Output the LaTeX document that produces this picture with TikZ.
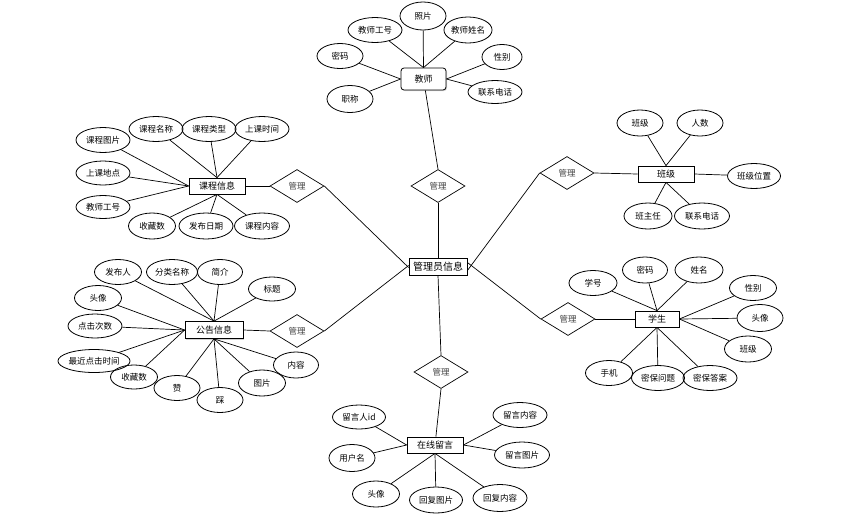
\documentclass[tikz,border=0pt]{standalone}
\usepackage{fontspec}
\setmainfont{Noto Sans CJK SC}
\usetikzlibrary{shapes.geometric,shadows}
\begin{document}
\begin{tikzpicture}[x=1pt,y=-1pt,
  every node/.style={font=\fontsize{8.5}{10}\selectfont, inner sep=0pt},
  attr/.style={ellipse, draw, line width=0.8pt, minimum width=#1, minimum height=25},
  attr/.default=47,
  ent/.style={rectangle, draw, line width=0.8pt, fill=white, minimum width=#1, minimum height=16,
    drop shadow={shadow xshift=1pt, shadow yshift=-1pt, opacity=0.35}, font=\fontsize{9}{10}\selectfont},
  ent/.default=56,
  rel/.style={diamond, draw, line width=0.7pt, minimum width=54, minimum height=33, text=black!75},
  conn/.style={line width=0.7pt}]
\useasboundingbox (0,0) rectangle (859,520);

% admin
\node[ent=58, minimum height=17, font=\fontsize{10}{11}\selectfont] (a) at (438,266.5) {管理员信息};

% relationships
\node[rel] (dT) at (438,186) {管理};
\node[rel] (dLT) at (297,186) {管理};
\node[rel] (dRT) at (567,173) {管理};
\node[rel] (dLB) at (297,331) {管理};
\node[rel] (dRB) at (568,319) {管理};
\node[rel] (dB) at (441,372) {管理};

% teacher
\node[ent=45, minimum height=22, rounded corners=3pt] (t) at (423.5,79) {教师};
\node[attr=46, minimum height=28] (t1) at (423,16) {照片};
\node[attr=54] (t2) at (375,30) {教师工号};
\node[attr=48, minimum height=26] (t3) at (468,30) {教师姓名};
\node[attr=46] (t4) at (340,56) {密码};
\node[attr=40] (t5) at (502,57) {性别};
\node[attr=46, minimum height=27] (t6) at (350,99) {职称};
\node[attr=54, minimum height=23] (t7) at (495,92) {联系电话};

% course
\node[ent=56] (c) at (217,186) {课程信息};
\node[attr=54] (c1) at (103,140) {课程图片};
\node[attr=54] (c2) at (156,129) {课程名称};
\node[attr=54] (c3) at (209,129) {课程类型};
\node[attr=54] (c4) at (262,129) {上课时间};
\node[attr=54, minimum height=24] (c5) at (103,173) {上课地点};
\node[attr=54, minimum height=23] (c6) at (103,207) {教师工号};
\node[attr=47, minimum height=26] (c7) at (152,226) {收藏数};
\node[attr=54, minimum height=26] (c8) at (206,226) {发布日期};
\node[attr=55, minimum height=26] (c9) at (262,226) {课程内容};

% class
\node[ent=56] (k) at (666,174) {班级};
\node[attr=46, minimum height=26] (k1) at (640,123) {班级};
\node[attr=46, minimum height=26] (k2) at (700,123) {人数};
\node[attr=53] (k3) at (754,176) {班级位置};
\node[attr=48, minimum height=26] (k4) at (648,216) {班主任};
\node[attr=55, minimum height=26] (k5) at (702,216) {联系电话};

% notice
\node[ent=58, minimum height=17] (n) at (214,330) {公告信息};
\node[attr=47] (n1) at (118,272) {发布人};
\node[attr=51] (n2) at (172,272) {分类名称};
\node[attr=45] (n3) at (220,272) {简介};
\node[attr=47, minimum height=24] (n4) at (272,289) {标题};
\node[attr=47] (n5) at (98,298) {头像};
\node[attr=54, minimum height=24] (n6) at (95,326) {点击次数};
\node[attr=68, minimum height=23] (n7) at (94,361) {最近点击时间};
\node[attr=47, minimum height=24] (n8) at (134,377) {收藏数};
\node[attr=46] (n9) at (177,388) {赞};
\node[attr=46] (n10) at (220,400) {踩};
\node[attr=47, minimum height=26] (n11) at (262,383) {图片};
\node[attr=45, minimum height=26] (n12) at (296,365) {内容};

% student
\node[ent=44] (s) at (657,319) {学生};
\node[attr=48] (s1) at (593,283) {学号};
\node[attr=45, minimum height=26] (s2) at (645,270) {密码};
\node[attr=48, minimum height=26] (s3) at (699,270) {姓名};
\node[attr=47] (s4) at (753,288) {性别};
\node[attr=46, minimum height=27] (s5) at (760,318) {头像};
\node[attr=47, minimum height=26] (s6) at (748,349) {班级};
\node[attr=47] (s7) at (609,373) {手机};
\node[attr=53] (s8) at (658,378) {密保问题};
\node[attr=54] (s9) at (710,378) {密保答案};

% message
\node[ent=56] (m) at (435,445) {在线留言};
\node[attr=53, minimum height=24] (m1) at (359,417) {留言人id};
\node[attr=46, minimum height=27] (m2) at (352,458) {用户名};
\node[attr=47, minimum height=26] (m3) at (376,494) {头像};
\node[attr=53, minimum height=26] (m4) at (436,500) {回复图片};
\node[attr=54, minimum height=27] (m5) at (500,498) {回复内容};
\node[attr=54] (m6) at (520,415) {留言内容};
\node[attr=55, minimum height=26] (m7) at (522,455) {留言图片};

% connectors: admin - relationships
\draw[conn] (dT.south) -- (a.north);
\draw[conn] (dLT.east) -- ([yshift=-1]a.west);
\draw[conn] (dLB.east) -- ([yshift=1]a.west);
\draw[conn] (dRT.west) -- ([yshift=-4]a.east);
\draw[conn] (dRB.west) -- ([yshift=4]a.east);
\draw[conn] (dB.north) -- (a.south);

% relationships - entities
\draw[conn] (dT.north) -- (t);
\draw[conn] (dLT.west) -- (c.east);
\draw[conn] (dRT.east) -- (k.west);
\draw[conn] (dLB.west) -- (n.east);
\draw[conn] (dRB.east) -- (s.west);
\draw[conn] (dB.south) -- (m);

% attributes
\foreach \i/\p in {1/north,2/north,3/north,4/west,5/east,6/west,7/east} \draw[conn] (t\i) -- (t.\p);
\foreach \i/\p in {1/west,2/north,3/north,4/north,5/west,6/west,7/south,8/south,9/south} \draw[conn] (c\i) -- (c.\p);
\foreach \i/\p in {1/north,2/north,3/east,4/south,5/south} \draw[conn] (k\i) -- (k.\p);
\foreach \i/\p in {1/north,2/north,3/north,4/north,5/west,6/west,7/west,8/west,9/south,10/south,11/south,12/south} \draw[conn] (n\i) -- (n.\p);
\foreach \i/\p in {1/north,2/north,3/north,4/east,5/east,6/east,7/south,8/south,9/south} \draw[conn] (s\i) -- (s.\p);
\foreach \i/\p in {1/west,2/west,3/south,4/south,5/south,6/east,7/east} \draw[conn] (m\i) -- (m.\p);
\end{tikzpicture}
\end{document}
